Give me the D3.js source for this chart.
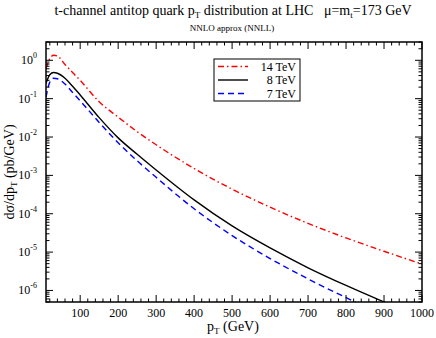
<!DOCTYPE html>
<html>
<head>
<meta charset="utf-8">
<script src="https://cdn.jsdelivr.net/npm/d3@7"></script>
<style>
  body { margin: 0; background: #fff; }
  svg { display: block; font-family: "Liberation Serif", "DejaVu Serif", serif; }
</style>
</head>
<body>
<svg id="chart"></svg>
<script>
// t-channel antitop pT distribution, log y axis

const width = 436;
const height = 338;
const margin = { top: 42, right: 14, bottom: 36, left: 46 };

// values
const pt = [10, 20, 30, 40, 60, 80, 100, 150, 200, 250, 300, 400, 500, 600, 700, 800, 900, 1000];
const lhc14 = [0.6, 1.1, 1.35, 1.3, 0.78, 0.48, 0.3, 0.083, 0.033, 0.0138, 6.3e-3, 1.51e-3, 4.37e-4, 1.48e-4, 5.6e-5, 2.34e-5, 1.05e-5, 4.9e-6];
const lhc8 = [0.25, 0.42, 0.48, 0.46, 0.34, 0.21, 0.125, 0.032, 9.5e-3, 3.55e-3, 1.38e-3, 2.29e-4, 4.8e-5, 1.28e-5, 3.9e-6, 1.35e-6, 5.0e-7, 1.9e-7];
const lhc7 = [0.11, 0.27, 0.34, 0.33, 0.24, 0.145, 0.088, 0.024, 7.1e-3, 2.4e-3, 8.9e-4, 1.35e-4, 2.7e-5, 6.8e-6, 2.0e-6, 6.5e-7, 2.2e-7, 8e-8];

const seriesNames = ["14 TeV", "8 TeV", "7 TeV"];
const xMajor = [100, 200, 300, 400, 500, 600, 700, 800, 900, 1000];
const yMajor = [0, -1, -2, -3, -4, -5, -6]; // exponents

const series = [
  { name: seriesNames[0], values: lhc14, color: "#ff0000", dash: "6,3,1.5,3" },
  { name: seriesNames[1], values: lhc8, color: "#000000", dash: null },
  { name: seriesNames[2], values: lhc7, color: "#0000ff", dash: "6,4" },
];

const svg = d3.select("#chart").attr("width", width).attr("height", height);

const x = d3.scaleLinear().domain([10, 1000]).range([margin.left, width - margin.right]);
const y = d3.scaleLog().domain([5e-7, 3]).range([height - margin.bottom, margin.top]);

const x0 = margin.left, x1 = width - margin.right;
const y0 = height - margin.bottom, y1 = margin.top;

svg.append("clipPath").attr("id", "clip")
  .append("rect").attr("x", x0).attr("y", y1).attr("width", x1 - x0).attr("height", y0 - y1);

// curves
const line = d3.line()
  .x((d) => x(d[0]))
  .y((d) => y(d[1]))
  .curve(d3.curveMonotoneX);

series.forEach((s) => {
  svg.append("path")
    .attr("clip-path", "url(#clip)")
    .attr("d", line(pt.map((p, i) => [p, s.values[i]])))
    .attr("fill", "none")
    .attr("stroke", s.color)
    .attr("stroke-width", 1.4)
    .attr("stroke-dasharray", s.dash);
});

// ticks, inward on all four sides
const ticks = svg.append("g").attr("stroke", "#000").attr("stroke-width", 1);
const xMinor = d3.range(20, 1000, 20).filter((v) => v % 100 !== 0);
xMinor.forEach((v) => {
  ticks.append("line").attr("x1", x(v)).attr("x2", x(v)).attr("y1", y0).attr("y2", y0 - 3.5);
  ticks.append("line").attr("x1", x(v)).attr("x2", x(v)).attr("y1", y1).attr("y2", y1 + 3.5);
});
xMajor.forEach((v) => {
  ticks.append("line").attr("x1", x(v)).attr("x2", x(v)).attr("y1", y0).attr("y2", y0 - 7);
  ticks.append("line").attr("x1", x(v)).attr("x2", x(v)).attr("y1", y1).attr("y2", y1 + 7);
});

const yMinor = [];
for (let e = -7; e <= 0; e++) {
  for (let m = 2; m <= 9; m++) {
    const v = m * Math.pow(10, e);
    if (v >= 5e-7 && v <= 3) yMinor.push(v);
  }
}
yMinor.forEach((v) => {
  ticks.append("line").attr("x1", x0).attr("x2", x0 + 3.5).attr("y1", y(v)).attr("y2", y(v));
  ticks.append("line").attr("x1", x1).attr("x2", x1 - 3.5).attr("y1", y(v)).attr("y2", y(v));
});
yMajor.forEach((e) => {
  const v = Math.pow(10, e);
  ticks.append("line").attr("x1", x0).attr("x2", x0 + 7).attr("y1", y(v)).attr("y2", y(v));
  ticks.append("line").attr("x1", x1).attr("x2", x1 - 7).attr("y1", y(v)).attr("y2", y(v));
});

// frame
svg.append("rect")
  .attr("x", x0).attr("y", y1).attr("width", x1 - x0).attr("height", y0 - y1)
  .attr("fill", "none").attr("stroke", "#000").attr("stroke-width", 1.5);

// tick labels
svg.append("g").selectAll("text").data(xMajor).enter().append("text")
  .attr("x", (d) => x(d)).attr("y", 317)
  .attr("text-anchor", "middle").attr("font-size", 12)
  .text((d) => d);

const yl = svg.append("g").selectAll("text").data(yMajor).enter().append("text")
  .attr("x", 37).attr("y", (d) => y(Math.pow(10, d)) + 4)
  .attr("text-anchor", "end").attr("font-size", 12);
yl.append("tspan").text("10");
yl.append("tspan").attr("dy", -6).attr("font-size", 8).text((d) => d);

// title
const title = svg.append("text").attr("x", 233).attr("y", 15)
  .attr("text-anchor", "middle").attr("font-size", 14);
title.append("tspan").text("t-channel antitop quark p");
title.append("tspan").attr("dy", 3).attr("font-size", 9).text("T");
title.append("tspan").attr("dy", -3).text(" distribution at LHC \u00a0 \u03bc=m");
title.append("tspan").attr("dy", 3).attr("font-size", 9).text("t");
title.append("tspan").attr("dy", -3).text("=173 GeV");

svg.append("text").attr("x", 232).attr("y", 31)
  .attr("text-anchor", "middle").attr("font-size", 9)
  .text("NNLO approx (NNLL)");

// axis titles
const xt = svg.append("text").attr("x", 233).attr("y", 331)
  .attr("text-anchor", "middle").attr("font-size", 14);
xt.append("tspan").text("p");
xt.append("tspan").attr("dy", 3).attr("font-size", 9).text("T");
xt.append("tspan").attr("dy", -3).text(" (GeV)");

const ytl = svg.append("text").attr("transform", "translate(14,172) rotate(-90)")
  .attr("text-anchor", "middle").attr("font-size", 14);
ytl.append("tspan").text("d\u03c3/dp");
ytl.append("tspan").attr("dy", 3).attr("font-size", 9).text("T");
ytl.append("tspan").attr("dy", -3).text(" (pb/GeV)");

// legend
const legend = svg.append("g");
legend.append("rect")
  .attr("x", 214).attr("y", 59).attr("width", 86).attr("height", 42)
  .attr("fill", "#fff").attr("stroke", "#000").attr("stroke-width", 1);
series.forEach((s, i) => {
  const ly = 66.5 + i * 13.5;
  legend.append("line")
    .attr("x1", 218).attr("x2", 248).attr("y1", ly).attr("y2", ly)
    .attr("stroke", s.color).attr("stroke-width", 1.4)
    .attr("stroke-dasharray", s.dash);
  legend.append("text")
    .attr("x", 296).attr("y", ly + 4)
    .attr("text-anchor", "end").attr("font-size", 12)
    .text(s.name);
});
</script>
</body>
</html>
